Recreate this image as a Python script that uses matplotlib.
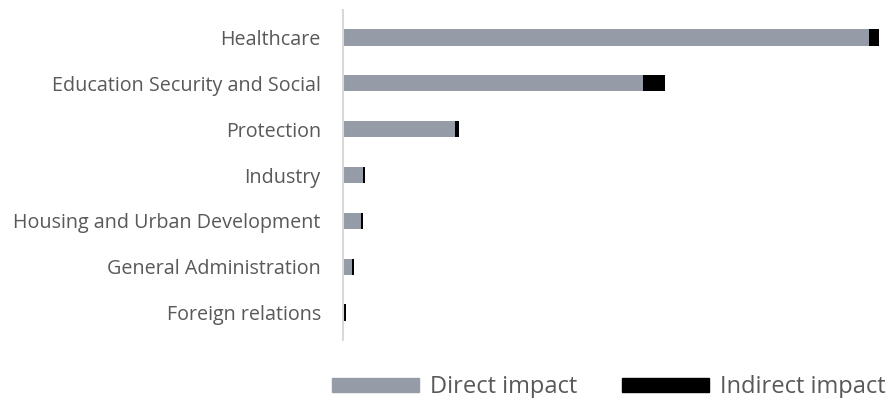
import matplotlib.pyplot as plt
from matplotlib.patches import Patch

plt.rcParams['font.family'] = ['Open Sans', 'DejaVu Sans']

categories = [
    'Healthcare',
    'Education Security and Social',
    'Protection',
    'Industry',
    'Housing and Urban Development',
    'General Administration',
    'Foreign relations',
]
direct = [526, 300, 112, 20, 18, 9, 1]
indirect = [10, 22, 4, 2, 2, 2, 2]

grey = '#959ca8'
black = '#000000'
text_col = '#595959'

fig = plt.figure(figsize=(8.92, 3.98), dpi=100)
ax = fig.add_axes([343 / 892, 1 - 340 / 398, (879 - 343) / 892, 330 / 398])

y = list(range(len(categories)))
ax.barh(y, direct, height=0.35, color=grey)
ax.barh(y, indirect, left=direct, height=0.35, color=black)

ax.set_xlim(0, 536)
ax.set_ylim(6.6, -0.6)
ax.set_yticks(y)
ax.set_yticklabels(categories, fontsize=14.2, color=text_col)
ax.tick_params(axis='y', length=0, pad=16)
ax.set_xticks([])

for s in ['top', 'right', 'bottom']:
    ax.spines[s].set_visible(False)
ax.spines['left'].set_color('#d9d9d9')
ax.spines['left'].set_linewidth(1.5)

handles = [Patch(color=grey, label='Direct impact'), Patch(color=black, label='Indirect impact')]
leg = fig.legend(handles=handles, loc='lower right', bbox_to_anchor=(1.011, -0.045), ncol=2,
                 frameon=False, fontsize=17, handlelength=3.7, handleheight=0.5,
                 columnspacing=1.9, handletextpad=0.45, borderpad=0.2)
for t in leg.get_texts():
    t.set_color(text_col)

fig.savefig('out.png', dpi=100)
